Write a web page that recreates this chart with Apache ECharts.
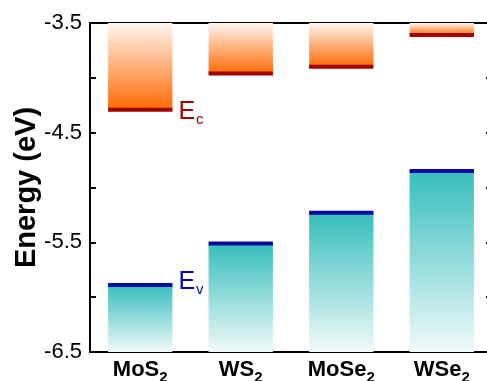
<!DOCTYPE html>
<html>
<head>
<meta charset="utf-8">
<script src="https://cdn.jsdelivr.net/npm/echarts@6/dist/echarts.min.js"></script>
<style>
  html, body { margin: 0; padding: 0; background: #fff; }
  #chart { width: 487px; height: 381px; }
</style>
</head>
<body>
<div id="chart"></div>
<script>
// Band-edge energies (eV) of monolayer TMDs
const materials = ['MoS', 'WS', 'MoSe', 'WSe'];      // formula stem, subscript "2" appended in labels
const conductionBand = [-4.29, -3.96, -3.90, -3.61]; // E_c
const valenceBand = [-5.89, -5.51, -5.23, -4.85];    // E_v
const yMin = -6.5;
const yMax = -3.5;
const yStep = 0.5;

const FONT = '"Liberation Sans", Arial, sans-serif';
const chart = echarts.init(document.getElementById('chart'), null, { renderer: 'canvas' });

// Draws a gradient band block from an axis edge to the band energy, capped by a dark edge line.
function bandRenderer(kind) {
  return function (params, api) {
    const i = api.value(0);
    const v = api.value(1);
    const edge = kind === 'cb' ? yMax : yMin;
    const pv = api.coord([i, v]);
    const pe = api.coord([i, edge]);
    const w = api.size([1, 0])[0] * 0.64;
    const x = pv[0] - w / 2;
    const y0 = Math.min(pv[1], pe[1]);
    const h = Math.abs(pv[1] - pe[1]);
    const fill = kind === 'cb'
      ? new echarts.graphic.LinearGradient(0, 0, 0, 1, [
          { offset: 0, color: '#fff7f1' },
          { offset: 1, color: '#ff6a05' }])
      : new echarts.graphic.LinearGradient(0, 0, 0, 1, [
          { offset: 0, color: '#36bebc' },
          { offset: 1, color: '#f2fbfb' }]);
    const lineColor = kind === 'cb' ? '#a00400' : '#0a0aa0';
    const children = [
      { type: 'rect', shape: { x: x, y: y0, width: w, height: h }, style: { fill: fill } },
      { type: 'rect', shape: { x: x, y: pv[1] - 2, width: w, height: 4 }, style: { fill: lineColor } }
    ];
    if (params.dataIndex === 0) {
      const sub = kind === 'cb' ? 'c' : 'v';
      children.push({
        type: 'text',
        x: x + w + 6,
        y: pv[1] + (kind === 'cb' ? 2 : -3),
        style: {
          text: '{e|E}{s|' + sub + '}',
          verticalAlign: 'middle',
          rich: {
            e: { fontSize: 25, fontFamily: FONT, fill: lineColor, color: lineColor },
            s: { fontSize: 15, fontFamily: FONT, fill: lineColor, color: lineColor, padding: [16, 0, 0, 1] }
          }
        }
      });
    }
    return { type: 'group', children: children };
  };
}

const tickStyle = { show: true, inside: true, length: 6, lineStyle: { color: '#000', width: 2 } };
const lineStyle = { show: true, lineStyle: { color: '#000', width: 2 } };

chart.setOption({
  animation: false,
  grid: { left: 90, top: 23, width: 402, bottom: 29, containLabel: false, outerBoundsMode: 'none' },
  xAxis: [
    {
      type: 'category', data: materials, position: 'bottom',
      axisLine: lineStyle, axisTick: Object.assign({ alignWithLabel: true }, tickStyle),
      axisLabel: {
        margin: 7,
        formatter: v => '{b|' + v + '}{s|2}',
        rich: {
          b: { fontSize: 22, fontWeight: 'bold', fontFamily: FONT, color: '#000', lineHeight: 26, verticalAlign: 'top' },
          s: { fontSize: 15, fontWeight: 'bold', fontFamily: FONT, color: '#000', lineHeight: 15, padding: [15, 0, 0, 0], verticalAlign: 'bottom' }
        }
      }
    },
    {
      type: 'category', data: materials, position: 'top',
      axisLine: lineStyle, axisTick: Object.assign({ alignWithLabel: true }, tickStyle),
      axisLabel: { show: false }
    }
  ],
  yAxis: [
    {
      type: 'value', min: yMin, max: yMax, interval: yStep, position: 'left',
      name: 'Energy (eV)', nameLocation: 'middle', nameGap: 49, nameMoveOverlap: false,
      nameTextStyle: { fontSize: 29, fontWeight: 'bold', fontFamily: FONT, color: '#000' },
      axisLine: lineStyle, axisTick: tickStyle, splitLine: { show: false },
      axisLabel: {
        margin: 8, fontSize: 22, fontFamily: FONT, color: '#000',
        formatter: v => (Math.abs(Math.round(v * 2)) % 2 === 1 ? v.toFixed(1) : '')
      }
    },
    {
      type: 'value', min: yMin, max: yMax, interval: yStep, position: 'right',
      axisLine: lineStyle, axisTick: tickStyle, splitLine: { show: false },
      axisLabel: { show: false }
    }
  ],
  series: [
    {
      type: 'custom', name: 'Ec', clip: true,
      renderItem: bandRenderer('cb'),
      data: conductionBand.map((v, i) => [i, v]), z: 1
    },
    {
      type: 'custom', name: 'Ev', clip: true,
      renderItem: bandRenderer('vb'),
      data: valenceBand.map((v, i) => [i, v]), z: 1
    }
  ]
});
</script>
</body>
</html>
